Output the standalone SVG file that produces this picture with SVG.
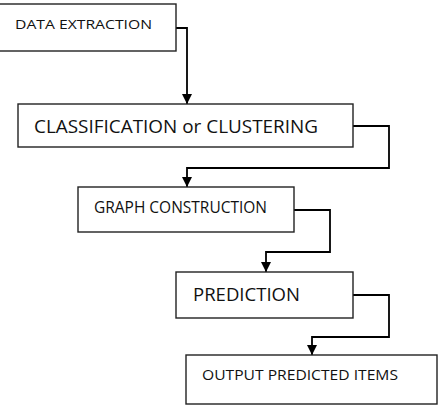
<svg xmlns="http://www.w3.org/2000/svg" width="443" height="414" viewBox="0 0 443 414">
<defs>
<marker id="arr" markerWidth="10" markerHeight="10" viewBox="0 0 10 10" refX="10" refY="5" orient="auto" markerUnits="userSpaceOnUse">
<path d="M0,0 L10,5 L0,10 Z" fill="#000"/>
</marker>
<style>
.box{fill:#fff;stroke:#222;stroke-width:1.4}
.lbl{font-family:"Open Sans","Liberation Sans",sans-serif;fill:#111}
.con{fill:none;stroke:#000;stroke-width:1.8;marker-end:url(#arr)}
</style>
</defs>
<rect width="443" height="414" fill="#fff"/>
<g id="connectors">
<path class="con" d="M176,28 H187 V104"/>
<path class="con" d="M353,126 H389 V168 H187 V187"/>
<path class="con" d="M294,210 H330 V252 H266 V272"/>
<path class="con" d="M353,295 H389 V337 H312 V355"/>
</g>
<g id="n1">
<rect class="box" x="-1" y="4" width="177" height="47"/>
<text class="lbl" x="15" y="29" font-size="13" textLength="137" lengthAdjust="spacingAndGlyphs">DATA EXTRACTION</text>
</g>
<g id="n2">
<rect class="box" x="18" y="104" width="335" height="43"/>
<text class="lbl" x="34" y="133" font-size="19" textLength="284" lengthAdjust="spacingAndGlyphs">CLASSIFICATION or CLUSTERING</text>
</g>
<g id="n3">
<rect class="box" x="78" y="187" width="216" height="45"/>
<text class="lbl" x="94" y="213" font-size="16" textLength="173" lengthAdjust="spacingAndGlyphs">GRAPH CONSTRUCTION</text>
</g>
<g id="n4">
<rect class="box" x="176" y="272" width="177" height="46"/>
<text class="lbl" x="193" y="301" font-size="19" textLength="107" lengthAdjust="spacingAndGlyphs">PREDICTION</text>
</g>
<g id="n5">
<rect class="box" x="186" y="355" width="251" height="49"/>
<text class="lbl" x="202" y="380" font-size="15" textLength="196" lengthAdjust="spacingAndGlyphs">OUTPUT PREDICTED ITEMS</text>
</g>
</svg>
